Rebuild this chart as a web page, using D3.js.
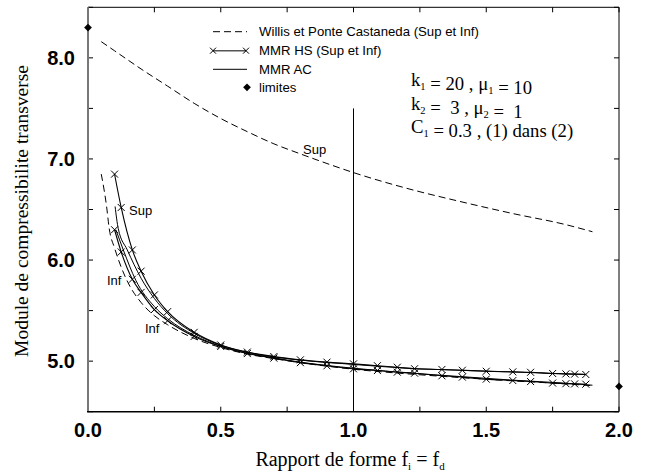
<!DOCTYPE html>
<html><head><meta charset="utf-8">
<script src="https://cdn.jsdelivr.net/npm/d3@7"></script>
<style>body{margin:0;background:#fff}</style>
</head><body>
<svg id="c" width="650" height="474"></svg>
<script>
// ---- data ----
const xTicksMajor = [0.0, 0.5, 1.0, 1.5, 2.0];
const yTicksMajor = [5.0, 6.0, 7.0, 8.0];

const willisSupF = [0.05, 0.1, 0.2, 0.3, 0.4, 0.5, 0.6, 0.7, 0.8, 0.9, 1.0, 1.2, 1.4, 1.6, 1.8, 1.9];
const willisSupV = [8.16, 8.07, 7.89, 7.72, 7.55, 7.40, 7.27, 7.15, 7.05, 6.955, 6.865, 6.71, 6.58, 6.46, 6.35, 6.28];

const willisInfF = [0.05, 0.07, 0.08, 0.1, 0.125, 0.15, 0.2, 0.25, 0.3, 0.4, 0.5, 0.6, 0.7, 0.8, 1.0, 1.2, 1.4, 1.6, 1.8, 1.9];
const willisInfV = [6.85, 6.53, 6.31, 6.12, 5.93, 5.78, 5.58, 5.45, 5.36, 5.225, 5.135, 5.07, 5.025, 4.985, 4.92, 4.875, 4.838, 4.805, 4.775, 4.757];

const hsF = [0.1, 0.125, 0.167, 0.2, 0.25, 0.3, 0.4, 0.5, 0.6, 0.7, 0.8, 0.9, 1.0, 1.09, 1.165, 1.23, 1.333, 1.41, 1.5, 1.6, 1.667, 1.75, 1.8, 1.833, 1.875];
const hsSupV = [6.85, 6.52, 6.10, 5.89, 5.655, 5.49, 5.285, 5.16, 5.09, 5.045, 5.013, 4.99, 4.973, 4.955, 4.94, 4.925, 4.918, 4.91, 4.90, 4.894, 4.89, 4.878, 4.874, 4.872, 4.868];
const hsInfV = [6.30, 6.08, 5.81, 5.68, 5.51, 5.40, 5.245, 5.145, 5.075, 5.03, 4.985, 4.954, 4.924, 4.907, 4.891, 4.881, 4.855, 4.842, 4.822, 4.808, 4.798, 4.783, 4.777, 4.775, 4.772];

const acSupF = [0.102, 0.114, 0.148, 0.2, 0.25, 0.3, 0.4, 0.5, 0.6, 0.7, 0.8, 1.0, 1.2, 1.4, 1.6, 1.8, 1.875];
const acSupV = [6.53, 6.31, 6.10, 5.82, 5.62, 5.47, 5.275, 5.157, 5.087, 5.042, 5.01, 4.968, 4.93, 4.91, 4.893, 4.874, 4.868];

const acInfF = [0.105, 0.133, 0.18, 0.25, 0.3, 0.4, 0.5, 0.6, 0.7, 0.8, 1.0, 1.2, 1.4, 1.6, 1.8, 1.9];
const acInfV = [6.30, 6.10, 5.80, 5.54, 5.42, 5.255, 5.148, 5.078, 5.033, 4.99, 4.93, 4.885, 4.848, 4.812, 4.782, 4.762];

const limitesF = [0.0, 2.0];
const limitesV = [8.3, 4.75];

const verticalLineF = 1.0;
const verticalLineV = [4.5, 7.5];

const legendLabels = ["Willis et Ponte Castaneda (Sup et Inf)", "MMR HS (Sup et Inf)", "MMR AC", "limites"];

// ---- chart ----
const svg = d3.select("#c");
const x = d3.scaleLinear().domain([0, 2]).range([88, 619]);
const y = d3.scaleLinear().domain([4.5, 8.5]).range([411.7, 7.3]);
const zip = (a, b) => a.map((v, i) => [v, b[i]]);
const line = d3.line().x(d => x(d[0])).y(d => y(d[1])).curve(d3.curveMonotoneX);

// frame
const [x0, x1] = x.range(), [y0, y1] = y.range();
svg.append("line").attr("x1", x0).attr("x2", x1).attr("y1", y1).attr("y2", y1).attr("stroke", "#000").attr("stroke-width", 1);
svg.append("line").attr("x1", x1).attr("x2", x1).attr("y1", y1).attr("y2", y0).attr("stroke", "#000").attr("stroke-width", 1);

// ticks (inward)
const xt = d3.range(0, 2.001, 0.25);
const yt = d3.range(4.5, 8.501, 0.5);
const tl = 5;
xt.forEach(t => {
  svg.append("line").attr("x1", x(t)).attr("x2", x(t)).attr("y1", y0).attr("y2", y0 - tl).attr("stroke", "#000");
  svg.append("line").attr("x1", x(t)).attr("x2", x(t)).attr("y1", y1).attr("y2", y1 + tl).attr("stroke", "#000");
});
yt.forEach(t => {
  svg.append("line").attr("x1", x0).attr("x2", x0 + tl).attr("y1", y(t)).attr("y2", y(t)).attr("stroke", "#000");
  svg.append("line").attr("x1", x1).attr("x2", x1 - tl).attr("y1", y(t)).attr("y2", y(t)).attr("stroke", "#000");
});
svg.append("line").attr("x1", x0).attr("x2", x0).attr("y1", y1).attr("y2", y0).attr("stroke", "#777").attr("stroke-width", 2);
svg.append("line").attr("x1", x0 - 1).attr("x2", x1).attr("y1", y0).attr("y2", y0).attr("stroke", "#000").attr("stroke-width", 1.6);

// tick labels
svg.selectAll(".xl").data(xTicksMajor).enter().append("text")
  .attr("x", d => x(d)).attr("y", 437).attr("text-anchor", "middle")
  .attr("font-family", "Liberation Sans, Arial, sans-serif").attr("font-weight", "bold").attr("font-size", 20)
  .text(d => d.toFixed(1));
svg.selectAll(".yl").data(yTicksMajor).enter().append("text")
  .attr("x", 75).attr("y", d => y(d) + 7).attr("text-anchor", "end")
  .attr("font-family", "Liberation Sans, Arial, sans-serif").attr("font-weight", "bold").attr("font-size", 20)
  .text(d => d.toFixed(1));

// axis titles
svg.append("text").attr("transform", "translate(28,211) rotate(-90)")
  .attr("text-anchor", "middle").attr("font-family", "Liberation Serif, Times New Roman, serif").attr("font-size", 19.5)
  .text("Module de compressibilite transverse");
const xt2 = svg.append("text").attr("x", 350).attr("y", 466).attr("text-anchor", "middle")
  .attr("font-family", "Liberation Serif, Times New Roman, serif").attr("font-size", 20);
xt2.append("tspan").text("Rapport de forme f");
xt2.append("tspan").attr("font-size", 11).attr("dy", 4).text("i");
xt2.append("tspan").attr("dy", -4).text(" = f");
xt2.append("tspan").attr("font-size", 11).attr("dy", 4).text("d");

// vertical line at f=1
svg.append("line").attr("x1", x(verticalLineF)).attr("x2", x(verticalLineF))
  .attr("y1", y(verticalLineV[0])).attr("y2", y(verticalLineV[1])).attr("stroke", "#000").attr("stroke-width", 1);

// curves
const g = svg.append("g").attr("fill", "none").attr("stroke", "#000");
g.append("path").attr("d", line(zip(willisSupF, willisSupV))).attr("stroke-dasharray", "7,4").attr("stroke-width", 1);
g.append("path").attr("d", line(zip(willisInfF, willisInfV))).attr("stroke-dasharray", "7,4").attr("stroke-width", 1);
g.append("path").attr("d", line(zip(acSupF, acSupV))).attr("stroke-width", 1);
g.append("path").attr("d", line(zip(acInfF, acInfV))).attr("stroke-width", 1);
g.append("path").attr("d", line(zip(hsF, hsSupV))).attr("stroke-width", 1.1);
g.append("path").attr("d", line(zip(hsF, hsInfV))).attr("stroke-width", 1.1);

function cross(sel, cx, cy, r) {
  sel.append("path").attr("d", `M${cx - r},${cy - r}L${cx + r},${cy + r}M${cx - r},${cy + r}L${cx + r},${cy - r}`)
    .attr("stroke", "#000").attr("stroke-width", 1).attr("fill", "none");
}
[hsSupV, hsInfV].forEach(vs => hsF.forEach((f, i) => cross(svg, x(f), y(vs[i]), 3.5)));

// limites diamonds
const diamond = d3.symbol().type(d3.symbolSquare).size(30);
svg.selectAll(".lim").data(zip(limitesF, limitesV)).enter().append("path")
  .attr("d", diamond).attr("transform", d => `translate(${x(d[0])},${y(d[1])}) rotate(45)`).attr("fill", "#000");

// curve labels
const lab = (t, px, py) => svg.append("text").attr("x", px).attr("y", py)
  .attr("font-family", "Liberation Sans, Arial, sans-serif").attr("font-size", 13).text(t);
lab("Sup", 303, 154);
lab("Sup", 129, 215);
lab("Inf", 107, 285);
lab("Inf", 145, 333);

// legend
const lg = svg.append("g");
const ly = [31.7, 50.7, 69.3, 87.3];
legendLabels.forEach((t, i) => {
  lg.append("text").attr("x", 259).attr("y", ly[i] + 4.5)
    .attr("font-family", "Liberation Sans, Arial, sans-serif").attr("font-size", 13.2).text(t);
});
lg.append("line").attr("x1", 213).attr("x2", 247).attr("y1", ly[0]).attr("y2", ly[0]).attr("stroke", "#000").attr("stroke-dasharray", "7,4");
lg.append("line").attr("x1", 213).attr("x2", 246).attr("y1", ly[1]).attr("y2", ly[1]).attr("stroke", "#555").attr("stroke-width", 1.5);
cross(lg, 213, ly[1], 3);
cross(lg, 246, ly[1], 3);
lg.append("line").attr("x1", 213).attr("x2", 247).attr("y1", ly[2]).attr("y2", ly[2]).attr("stroke", "#000");
lg.append("path").attr("d", diamond).attr("transform", `translate(247,${ly[3]}) rotate(45)`).attr("fill", "#000");

// annotation
const ann = svg.append("g").attr("font-family", "Liberation Serif, Times New Roman, serif").attr("font-size", 18.7);
function annLine(py, parts) {
  const t = ann.append("text").attr("x", 411).attr("y", py);
  parts.forEach(p => {
    if (p.sub) { t.append("tspan").attr("font-size", 10.5).attr("dy", 4).text(p.sub); t.append("tspan").attr("dy", -4).text(""); }
    else t.append("tspan").text(p.t);
  });
}
annLine(86, [{t: "k"}, {sub: "1"}, {t: " = 20 , \u03bc"}, {sub: "1"}, {t: " = 10"}]);
annLine(109.5, [{t: "k"}, {sub: "2"}, {t: " = \u00a03 , \u03bc"}, {sub: "2"}, {t: " = \u00a01"}]);
annLine(133, [{t: "C"}, {sub: "1"}, {t: " = 0.3 , (1) dans (2)"}]);
</script>
</body></html>
